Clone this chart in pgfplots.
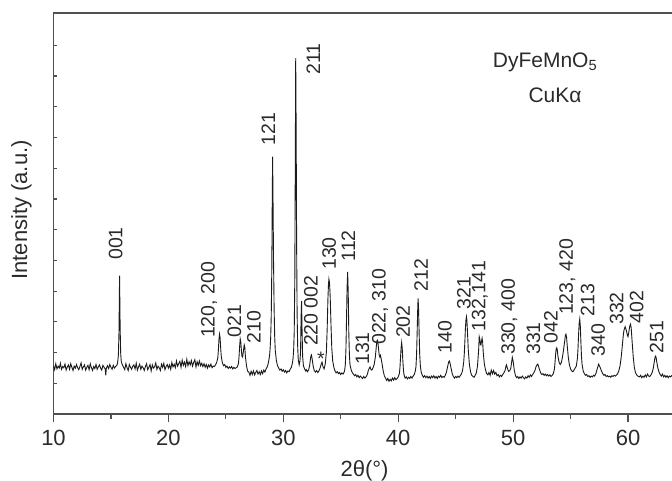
\documentclass[border=0pt]{standalone}
\usepackage{fontspec}
\setmainfont{Liberation Sans}
\usepackage{pgfplots}
\pgfplotsset{compat=1.18}
\definecolor{axisgray}{HTML}{505050}
\definecolor{txt}{HTML}{2B2B2B}
\definecolor{trace}{HTML}{1A1A1A}

\newcommand{\pk}[3]{\node[rotate=90,anchor=west,inner sep=0pt,text=txt,font=\fontsize{19.5}{22}\selectfont] at (axis cs:#1,#2) {#3};}

\begin{document}
\begin{tikzpicture}[font=\fontsize{22}{26}\selectfont]
\useasboundingbox (-53.5pt,-67pt) rectangle (618.5pt,414pt);

% y ticks point inwards: separate empty axis
\begin{axis}[
  scale only axis, width=622pt, height=401pt,
  at={(0,0)}, anchor=south west,
  xmin=10, xmax=64.134, ymin=-0.5, ymax=100,
  axis line style={draw=none},
  xtick=\empty,
  ytick={7.2,14.9,22.6,30.3,38.0,45.7,53.4,61.1,68.8,76.5,84.2,91.9},
  yticklabels={}, ytick pos=left,
  tick align=inside, major tick length=3pt,
  tick style={axisgray, line width=1.2pt},
]
\end{axis}

\begin{axis}[
  scale only axis, width=622pt, height=401pt,
  at={(0,0)}, anchor=south west,
  xmin=10, xmax=64.134, ymin=-0.5, ymax=100,
  axis line style={axisgray, line width=1.4pt},
  xtick={10,20,30,40,50,60}, minor x tick num=1,
  ytick=\empty,
  xtick pos=bottom,
  tick align=outside, major tick length=8.5pt, minor tick length=5.5pt,
  tick style={axisgray, line width=1.1pt},
  /pgf/number format/assume math mode=true,
  xticklabel style={text=txt, font=\fontsize{22}{26}\selectfont, yshift=-4.5pt},
]
\addplot[trace, line width=0.9pt] coordinates {
(10.0,11.6) (10.1,10.6) (10.2,12.1) (10.3,10.8) (10.4,11.5) (10.5,11.0) (10.6,12.2) (10.7,10.7) (10.8,11.4) (10.9,11.1)
(11.0,12.0) (11.1,10.5) (11.2,11.3) (11.3,11.8) (11.4,10.7) (11.5,12.1) (11.6,11.2) (11.7,10.4) (11.8,11.5) (11.9,11.0)
(12.0,11.9) (12.1,11.1) (12.2,10.6) (12.3,11.4) (12.4,12.3) (12.5,10.7) (12.6,11.3) (12.7,11.8) (12.8,10.5) (12.9,11.2)
(13.0,11.7) (13.1,10.6) (13.2,12.1) (13.3,11.1) (13.4,10.4) (13.5,11.4) (13.6,10.9) (13.7,11.9) (13.8,10.7) (13.9,11.3)
(14.0,11.8) (14.1,11.0) (14.2,10.5) (14.3,11.7) (14.4,11.2) (14.5,10.8) (14.55,9.2) (14.6,11.0) (14.7,11.6) (14.8,10.9) (14.9,11.9)
(15.0,11.2) (15.1,10.7) (15.2,11.7) (15.3,11.0) (15.4,11.4) (15.5,11.6) (15.55,12.0) (15.6,12.8) (15.65,14.5) (15.7,20.0)
(15.75,34.2) (15.8,21.0) (15.85,14.5) (15.9,12.6) (16.0,11.8) (16.1,11.2)
(16.2,10.6) (16.3,12.1) (16.4,11.1) (16.5,10.4) (16.6,11.9) (16.7,11.2) (16.8,10.7) (16.9,11.5)
(17.0,11.8) (17.1,10.8) (17.2,12.2) (17.3,10.5) (17.4,11.3) (17.5,12.0) (17.6,10.7) (17.7,11.5) (17.8,11.1) (17.9,10.4)
(18.0,11.4) (18.1,12.1) (18.2,10.6) (18.3,11.2) (18.4,11.9) (18.5,10.3) (18.6,11.8) (18.7,11.0) (18.8,11.3) (18.9,12.3)
(19.0,10.7) (19.1,11.5) (19.2,11.1) (19.3,10.4) (19.4,12.0) (19.5,11.2) (19.6,12.2) (19.7,10.6) (19.8,11.4) (19.9,11.9)
(20.0,11.0) (20.1,11.8) (20.2,10.7) (20.3,12.4) (20.4,11.3) (20.5,12.0) (20.6,11.1) (20.7,12.8) (20.8,11.5) (20.9,12.1)
(21.0,12.7) (21.1,11.2) (21.2,13.0) (21.3,11.7) (21.4,12.5) (21.5,11.4) (21.6,13.2) (21.7,11.6) (21.8,12.6) (21.9,11.8)
(22.0,12.9) (22.1,11.5) (22.2,12.4) (22.3,13.1) (22.4,11.3) (22.5,12.6) (22.6,11.7) (22.7,12.8) (22.8,11.6) (22.9,12.2)
(23.0,11.4) (23.1,12.1) (23.2,11.2) (23.3,11.9) (23.4,11.0) (23.5,11.8) (23.6,11.3) (23.7,12.0) (23.8,11.1) (23.9,11.5)
(24.0,11.4) (24.1,11.8) (24.2,12.4) (24.3,13.6) (24.35,15.5) (24.4,18.2) (24.45,19.5) (24.5,18.6) (24.55,16.0) (24.6,14.0) (24.7,12.3) (24.8,11.6) (24.9,11.9)
(25.0,11.2) (25.1,11.5) (25.2,10.9) (25.3,11.3) (25.4,11.0) (25.5,11.4) (25.6,10.8) (25.7,11.2) (25.8,10.9) (25.9,11.1)
(26.0,11.3) (26.1,12.2) (26.15,14.0) (26.2,16.5) (26.25,18.3) (26.3,17.6) (26.35,15.5) (26.4,14.0) (26.45,13.8) (26.5,14.6)
(26.55,15.8) (26.6,16.8) (26.65,16.2) (26.7,14.0) (26.8,11.5) (26.9,10.2)
(27.0,10.0) (27.1,9.2) (27.2,10.2) (27.3,9.4) (27.4,10.3) (27.5,9.3) (27.6,9.9) (27.7,10.4) (27.8,9.5) (27.9,10.1)
(28.0,9.4) (28.1,10.3) (28.2,9.6) (28.3,10.5) (28.4,10.0) (28.5,10.8) (28.6,11.3) (28.7,12.3) (28.8,14.0) (28.85,15.8)
(28.9,18.5) (28.95,24.0) (29.0,36.0) (29.03,50.0) (29.07,64.0) (29.1,55.0) (29.15,38.0) (29.2,26.0) (29.25,19.0) (29.3,15.5)
(29.4,12.8) (29.5,11.6) (29.6,11.0) (29.7,10.5) (29.8,10.8) (29.9,10.2)
(30.0,10.6) (30.1,10.0) (30.2,10.4) (30.3,9.8) (30.4,10.3) (30.5,10.1) (30.6,10.7) (30.7,11.2) (30.8,12.3) (30.85,13.5)
(30.9,15.5) (30.95,20.0) (31.0,33.0) (31.04,60.0) (31.08,88.7) (31.12,70.0) (31.16,42.0) (31.2,25.0) (31.25,16.5) (31.3,13.2)
(31.38,11.8) (31.45,12.8) (31.5,15.0) (31.55,24.0) (31.59,27.8) (31.63,21.0) (31.68,14.0) (31.75,11.6) (31.85,10.8) (31.95,10.3)
(32.0,10.6) (32.1,10.1) (32.2,10.5) (32.3,11.8) (32.35,13.0) (32.4,14.0) (32.45,14.3) (32.5,13.5) (32.6,11.5) (32.7,10.3) (32.8,10.0) (32.9,10.4)
(33.0,9.9) (33.1,10.3) (33.2,11.0) (33.3,12.0) (33.37,12.5) (33.45,11.4) (33.55,10.8) (33.65,12.0) (33.75,15.0) (33.82,21.0)
(33.88,28.0) (33.93,32.0) (33.97,33.3) (34.02,32.5) (34.08,29.0) (34.15,22.0) (34.22,16.0) (34.3,12.8) (34.4,11.2) (34.5,10.3)
(34.6,9.8) (34.7,10.1) (34.8,9.6) (34.9,9.9)
(35.0,9.4) (35.1,9.8) (35.2,9.5) (35.3,10.0) (35.35,10.6) (35.4,12.0) (35.45,15.5) (35.5,23.0) (35.55,31.0) (35.6,35.1)
(35.65,30.0) (35.7,20.0) (35.75,14.5) (35.8,12.0) (35.9,10.6)
(36.0,9.9) (36.1,9.5) (36.2,9.1) (36.3,9.4) (36.4,8.8) (36.5,9.2) (36.6,8.6) (36.7,9.0) (36.8,8.7) (36.9,8.4)
(37.0,8.9) (37.1,8.5) (37.2,8.8) (37.3,9.3) (37.4,10.4) (37.5,11.1) (37.55,11.3) (37.6,10.8) (37.7,10.5) (37.8,11.0) (37.9,11.8)
(38.0,13.5) (38.05,15.0) (38.1,16.6) (38.15,17.8) (38.2,18.0) (38.25,17.0) (38.3,15.5) (38.35,14.2) (38.4,13.8) (38.45,14.2)
(38.5,13.6) (38.6,12.0) (38.7,10.2) (38.8,9.0) (38.9,8.5)
(39.0,7.9) (39.1,8.4) (39.2,7.7) (39.3,8.2) (39.4,7.8) (39.5,8.5) (39.6,8.0) (39.7,8.6) (39.8,8.1) (39.9,8.4)
(40.0,8.8) (40.1,9.6) (40.15,11.0) (40.2,13.5) (40.25,16.0) (40.3,17.4) (40.35,16.0) (40.4,13.0) (40.45,10.8) (40.5,9.4)
(40.6,8.5) (40.7,8.8) (40.8,8.3) (40.9,8.7)
(41.0,8.4) (41.1,8.9) (41.2,8.5) (41.3,9.0) (41.4,9.4) (41.5,10.4) (41.55,11.5) (41.6,14.5) (41.65,20.0) (41.7,26.0)
(41.73,28.5) (41.77,26.0) (41.82,20.0) (41.87,14.5) (41.93,11.5) (42.0,10.0)
(42.1,9.2) (42.2,8.7) (42.3,9.1) (42.4,8.6) (42.5,9.0) (42.6,8.5) (42.7,8.9) (42.8,8.4) (42.9,9.0)
(43.0,8.6) (43.1,9.1) (43.2,8.5) (43.3,8.9) (43.4,8.4) (43.5,9.0) (43.6,8.7) (43.7,9.2) (43.8,8.6) (43.9,8.9)
(44.0,8.7) (44.1,9.2) (44.2,10.0) (44.3,11.4) (44.4,12.6) (44.45,12.8) (44.5,12.4) (44.6,11.0) (44.7,9.6) (44.8,8.9) (44.9,8.5)
(45.0,8.9) (45.1,8.6) (45.2,9.0) (45.3,8.7) (45.4,9.1) (45.5,9.5) (45.6,10.4) (45.7,12.5) (45.75,14.5) (45.8,17.5)
(45.85,21.0) (45.9,23.2) (45.94,23.9) (45.98,23.0) (46.03,20.0) (46.1,15.5) (46.2,11.8) (46.3,10.0) (46.4,9.2) (46.5,8.9)
(46.6,8.7) (46.7,9.2) (46.8,9.8) (46.9,11.5)
(47.0,15.5) (47.05,18.9) (47.1,18.3) (47.15,17.0) (47.2,16.8) (47.25,17.8) (47.3,18.5) (47.35,17.5) (47.4,15.0) (47.5,12.0)
(47.6,10.5) (47.7,9.6) (47.8,9.3) (47.9,9.9)
(48.0,9.2) (48.1,10.5) (48.2,9.6) (48.3,10.4) (48.4,9.5) (48.5,9.9) (48.6,9.1) (48.7,9.4) (48.8,8.8) (48.9,9.2)
(49.0,8.9) (49.1,9.4) (49.2,9.8) (49.3,10.4) (49.38,11.5) (49.42,11.8) (49.5,11.0) (49.6,10.2) (49.7,10.3) (49.8,11.0)
(49.85,12.0) (49.93,13.7) (50.0,12.8) (50.1,10.5) (50.2,9.2)
(50.3,8.6) (50.4,8.9) (50.5,8.4) (50.6,8.8) (50.7,8.5) (50.8,9.0) (50.9,8.6)
(51.0,8.3) (51.1,8.8) (51.2,8.5) (51.3,9.1) (51.4,8.7) (51.5,9.3) (51.6,8.9) (51.7,9.4) (51.8,9.8) (51.9,10.4)
(52.0,11.4) (52.1,11.9) (52.15,12.0) (52.2,11.6) (52.3,10.6) (52.4,9.8) (52.5,9.4) (52.6,9.6) (52.7,9.2) (52.8,9.5) (52.9,9.1)
(53.0,9.4) (53.1,9.0) (53.2,9.3) (53.3,8.9) (53.4,9.2) (53.5,9.6) (53.6,10.8) (53.65,12.5) (53.7,14.5) (53.75,15.8)
(53.8,16.1) (53.85,15.5) (53.9,14.0) (54.0,12.5) (54.1,11.9) (54.2,12.4) (54.3,13.8) (54.4,15.8) (54.5,18.0) (54.55,19.2)
(54.6,19.5) (54.65,18.8) (54.7,17.0) (54.8,13.8) (54.9,11.8)
(55.0,10.8) (55.1,10.3) (55.2,10.1) (55.3,10.5) (55.4,11.0) (55.5,11.5) (55.6,13.5) (55.65,16.0) (55.7,19.5) (55.75,22.2)
(55.8,23.3) (55.85,21.5) (55.9,17.5) (55.95,14.0) (56.0,12.0) (56.1,10.3)
(56.2,9.6) (56.3,9.2) (56.4,9.4) (56.5,8.9) (56.6,9.1) (56.7,8.7) (56.8,9.0) (56.9,8.8)
(57.0,9.2) (57.1,9.0) (57.2,9.6) (57.3,10.6) (57.4,11.6) (57.45,12.0) (57.5,11.6) (57.6,11.0) (57.7,10.2) (57.8,9.6) (57.9,9.2)
(58.0,9.4) (58.1,8.9) (58.2,9.1) (58.3,8.8) (58.4,9.0) (58.5,8.7) (58.6,9.1) (58.7,8.9) (58.8,9.2) (58.9,9.0)
(59.0,9.3) (59.1,9.6) (59.2,10.3) (59.3,11.5) (59.4,13.5) (59.5,16.5) (59.6,19.5) (59.65,20.5) (59.75,21.4) (59.85,20.5)
(59.95,19.2) (60.0,18.9) (60.07,20.0) (60.15,21.5) (60.22,22.0) (60.28,21.0) (60.35,18.0) (60.45,14.0) (60.55,11.2) (60.65,9.9)
(60.75,9.3) (60.85,9.0)
(61.0,8.8) (61.1,9.2) (61.2,8.6) (61.3,9.0) (61.4,8.7) (61.5,9.3) (61.6,8.8) (61.7,9.5) (61.8,9.0) (61.9,8.9)
(62.0,9.3) (62.1,9.9) (62.2,11.0) (62.3,12.8) (62.35,13.7) (62.4,14.0) (62.45,13.6) (62.5,12.6) (62.6,11.0) (62.7,10.0)
(62.8,9.4) (62.9,9.0)
(63.0,9.5) (63.1,8.8) (63.2,9.2) (63.3,8.7) (63.4,9.1) (63.5,8.6) (63.6,9.0) (63.7,8.8) (63.8,9.1) (63.9,8.9) (64.0,9.2) (64.1,8.8)
};
\pk{15.41}{38.1}{001}
\pk{23.53}{18.5}{120, 200}
\pk{25.74}{18.7}{021}
\pk{27.45}{17.2}{210}
\pk{28.69}{66.7}{121}
\pk{32.61}{84.5}{211}
\pk{32.41}{16.5}{220 002}
\pk{34.0}{35.6}{130}
\pk{35.66}{37.7}{112}
\pk{36.88}{11.8}{131}
\pk{38.42}{16.8}{022, 310}
\pk{40.44}{18.5}{202}
\pk{41.98}{30.2}{212}
\pk{44.07}{14.7}{140}
\pk{45.72}{25.6}{321}
\pk{47.11}{20.1}{132,141}
\pk{49.67}{14.3}{330, 400}
\pk{51.76}{14.3}{331}
\pk{53.3}{17.2}{042}
\pk{54.72}{24.3}{123, 420}
\pk{56.49}{23.9}{213}
\pk{57.41}{13.9}{340}
\pk{59.02}{21.8}{332}
\pk{60.76}{22.2}{402}
\pk{62.5}{14.7}{251}
\node[text=txt,inner sep=0pt,font=\fontsize{19.5}{22}\selectfont] at (axis cs:33.28,13.3) {*};
\node[text=txt,font=\fontsize{21}{25}\selectfont] at (axis cs:52.78,87.7) {DyFeMnO\textsubscript{5}};
\node[text=txt,font=\fontsize{21}{25}\selectfont] at (axis cs:53.65,79.4) {CuKα};
\end{axis}

\node[text=txt] at (311pt,-57pt) {2θ(°)};
\node[text=txt,rotate=90] at (-32pt,204pt) {Intensity (a.u.)};
\end{tikzpicture}
\end{document}
